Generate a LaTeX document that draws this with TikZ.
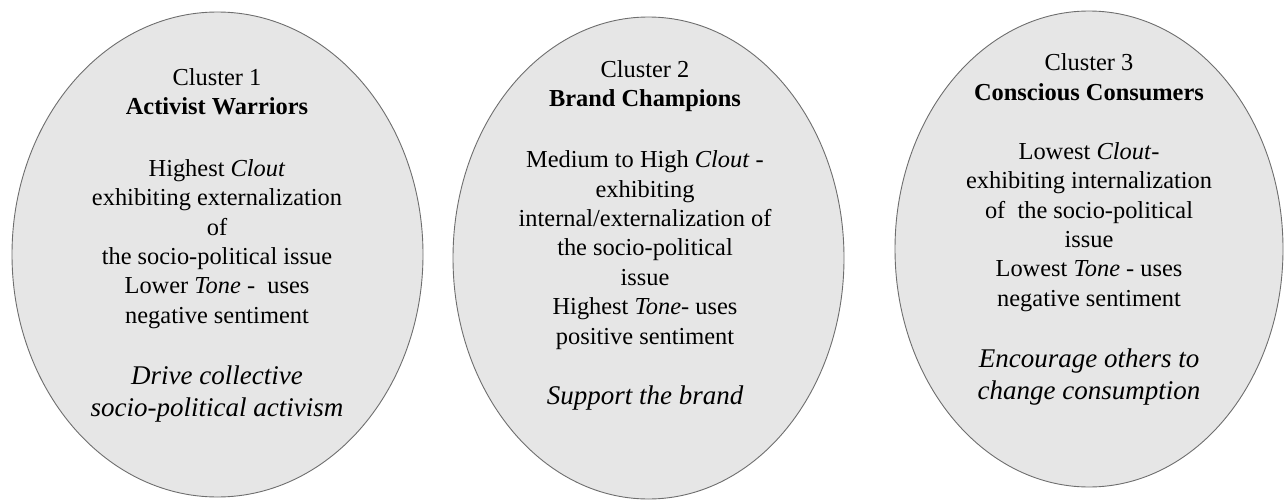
\documentclass[tikz,border=0pt]{standalone}
\usepackage{fontspec}
\setmainfont{Liberation Serif}
\usetikzlibrary{shapes.geometric}
\definecolor{ellfill}{HTML}{E6E6E6}
\definecolor{ellline}{HTML}{6E6E6E}
\tikzset{
  cluster/.style={ellipse, draw=ellline, fill=ellfill, line width=0.9pt, inner sep=0pt},
  txt/.style={align=center, inner sep=0pt, text=black, font=\fontsize{24.4}{29.4}\selectfont},
  tag/.style={align=center, inner sep=0pt, text=black, font=\fontsize{27}{31.5}\selectfont\itshape}
}
\begin{document}
\begin{tikzpicture}[x=1pt, y=-1pt]
\useasboundingbox (0,0) rectangle (1284,500);
% ellipses
\node[cluster, minimum width=411pt, minimum height=485pt] (e1) at (217.5,254.5) {};
\node[cluster, minimum width=391pt, minimum height=482pt] (e2) at (648.5,258) {};
\node[cluster, minimum width=388pt, minimum height=476pt] (e3) at (1089,249) {};
% cluster 1
\node[txt] (t1) at (217,92) {Cluster 1\\\textbf{Activist Warriors}};
\node[txt] (b1) at (217,244) {Highest \textit{Clout}\\exhibiting externalization\\of\\the socio-political issue\\Lower \textit{Tone} -~ uses\\negative sentiment};
\node[tag] (g1) at (217,394) {Drive collective\\socio-political activism};
% cluster 2
\node[txt] (t2) at (645,86) {Cluster 2\\\textbf{Brand Champions}};
\node[txt] (b2) at (645,250) {Medium to High \textit{Clout} -\\exhibiting\\internal/externalization of\\the socio-political\\issue\\Highest \textit{Tone}- uses\\positive sentiment};
\node[tag] (g2) at (645,398) {Support the brand};
% cluster 3
\node[txt] (t3) at (1089,77) {Cluster 3\\\textbf{Conscious Consumers}};
\node[txt] (b3) at (1089,227) {Lowest \textit{Clout}-\\exhibiting internalization\\of~ the socio-political\\issue\\Lowest \textit{Tone} - uses\\negative sentiment};
\node[tag] (g3) at (1089,377) {Encourage others to\\change consumption};
\end{tikzpicture}
\end{document}
